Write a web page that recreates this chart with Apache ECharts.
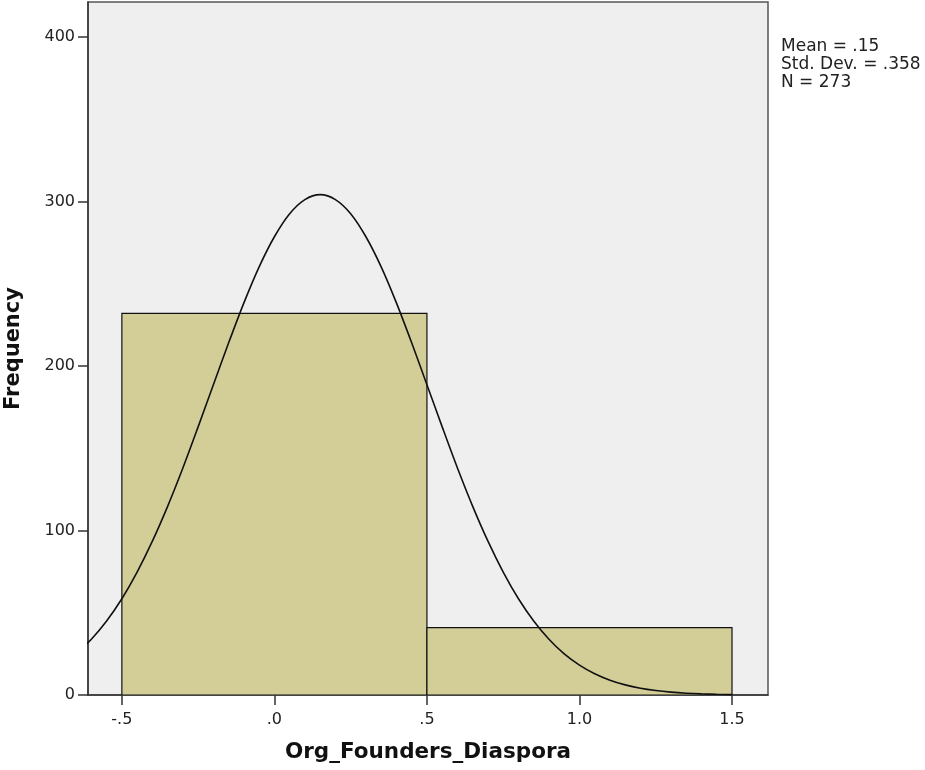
<!DOCTYPE html>
<html><head><meta charset="utf-8">
<script src="https://cdn.jsdelivr.net/npm/echarts@6/dist/echarts.min.js"></script>
<style>html,body{margin:0;padding:0;background:#fff}#c{width:925px;height:770px}</style>
</head><body><div id="c"></div>
<script>
// Histogram bins: [lower edge, upper edge, frequency]
const binLower = [-0.5, 0.5];
const binUpper = [0.5, 1.5];
const binFreq = [232, 41];
// Normal curve (x, frequency)
const curveX = [-0.65, -0.6, -0.55, -0.5, -0.45, -0.4, -0.35, -0.3, -0.25, -0.2, -0.15, -0.1, -0.05, 0.0, 0.05, 0.1, 0.15, 0.2, 0.25, 0.3, 0.35, 0.4, 0.45, 0.5, 0.55, 0.6, 0.65, 0.7, 0.75, 0.8, 0.85, 0.9, 0.95, 1.0, 1.05, 1.1, 1.15, 1.2, 1.25, 1.3, 1.35, 1.4, 1.45, 1.5];
const curveY = [25.0, 33.9, 45.0, 58.5, 74.7, 93.5, 114.7, 138.0, 163.0, 188.6, 214.1, 238.4, 260.3, 278.6, 292.6, 301.2, 304.2, 301.2, 292.6, 278.6, 260.3, 238.4, 214.1, 188.6, 163.0, 138.0, 114.7, 93.5, 74.7, 58.5, 45.0, 33.9, 25.0, 18.2, 12.9, 9.0, 6.15, 4.1, 2.71, 1.75, 1.11, 0.69, 0.42, 0.25];
const xTicks = [-0.5, 0, 0.5, 1.0, 1.5];
const xTickLabels = ['-.5', '.0', '.5', '1.0', '1.5'];
const yTicks = [0, 100, 200, 300, 400];
const statsLines = ['Mean = .15', 'Std. Dev. = .358', 'N = 273'];
const xTitle = 'Org_Founders_Diaspora';
const yTitle = 'Frequency';

const font = 'DejaVu Sans';
const chart = echarts.init(document.getElementById('c'), null, {renderer: 'canvas'});
const barData = binFreq.map((f, i) => [binLower[i], binUpper[i], f]);
const lineData = curveX.map((x, i) => [x, curveY[i]]);

chart.setOption({
  animation: false,
  grid: {left: 88, right: 157, top: 2, bottom: 75, show: true, containLabel: false, outerBoundsMode: 'none',
         backgroundColor: '#efefef', borderColor: '#555', borderWidth: 1.5},
  xAxis: {
    type: 'value', min: -0.611, max: 1.618,
    name: xTitle, nameLocation: 'middle', nameGap: 46,
    nameTextStyle: {fontFamily: font, fontSize: 21.5, fontWeight: 'bold', color: '#111'},
    axisLine: {show: true, onZero: false, lineStyle: {color: '#333', width: 1.5}},
    axisTick: {show: true, length: 10, customValues: xTicks, lineStyle: {color: '#333', width: 1.5}},
    axisLabel: {customValues: xTicks, fontFamily: font, fontSize: 16, color: '#222', margin: 17,
      formatter: v => { const i = xTicks.findIndex(t => Math.abs(t - v) < 1e-9); return i >= 0 ? xTickLabels[i] : ''; }},
    splitLine: {show: false}
  },
  yAxis: {
    type: 'value', min: 0, max: 421.3,
    name: yTitle, nameLocation: 'middle', nameGap: 64, nameRotate: 90,
    nameTextStyle: {fontFamily: font, fontSize: 21, fontWeight: 'bold', color: '#111'},
    axisLine: {show: true, onZero: false, lineStyle: {color: '#333', width: 1.5}},
    axisTick: {show: true, length: 10, customValues: yTicks, lineStyle: {color: '#333', width: 1.5}},
    axisLabel: {customValues: yTicks, fontFamily: font, fontSize: 16, color: '#222', margin: 13},
    splitLine: {show: false}
  },
  series: [
    {
      type: 'custom', data: barData, clip: true,
      renderItem: (params, api) => {
        const p0 = api.coord([api.value(0), api.value(2)]);
        const p1 = api.coord([api.value(1), 0]);
        return {type: 'rect', shape: {x: p0[0], y: p0[1], width: p1[0] - p0[0], height: p1[1] - p0[1]},
                style: {fill: '#d3ce98', stroke: '#111', lineWidth: 1.2}};
      },
      encode: {x: [0, 1], y: 2}, z: 2
    },
    {
      type: 'line', data: lineData, smooth: 0.3, showSymbol: false, clip: true,
      lineStyle: {color: '#111', width: 1.6}, z: 3
    }
  ],
  graphic: [{
    type: 'text', left: 781, top: 38,
    style: {text: statsLines.join('\n'), fontFamily: font, fontSize: 17, lineHeight: 18, fill: '#222'}
  }]
});
</script></body></html>
